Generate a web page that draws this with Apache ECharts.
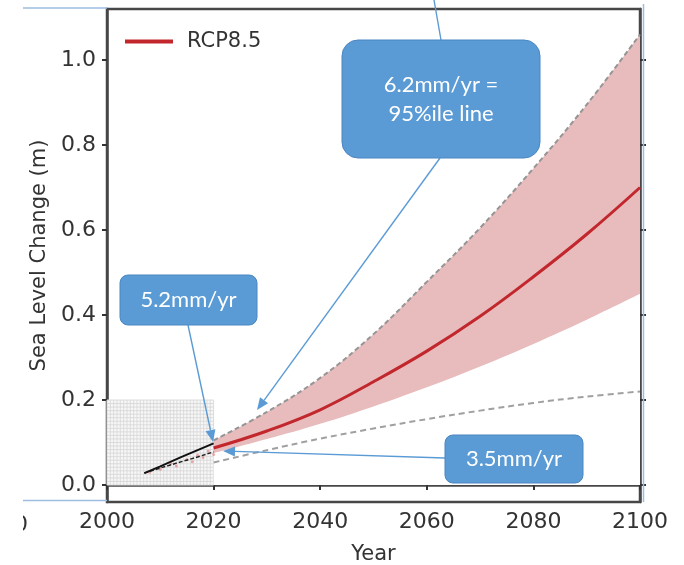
<!DOCTYPE html>
<html>
<head>
<meta charset="utf-8">
<script src="https://cdn.jsdelivr.net/npm/echarts@6/dist/echarts.min.js"></script>
<style>html,body{margin:0;padding:0;background:#fff;}#c{width:684px;height:565px;}</style>
</head>
<body>
<div id="c"></div>
<script>
// ---- data ----
var projYears = [2020, 2030, 2040, 2050, 2060, 2070, 2080, 2090, 2100];
var rcpMedian = [0.087, 0.127, 0.177, 0.243, 0.315, 0.397, 0.49, 0.59, 0.70];
var rcpUpper  = [0.105, 0.172, 0.252, 0.355, 0.478, 0.605, 0.745, 0.895, 1.06];
var rcpLower  = [0.075, 0.108, 0.144, 0.185, 0.23, 0.279, 0.332, 0.389, 0.45];
var lowLine   = [0.053, 0.082, 0.109, 0.133, 0.155, 0.175, 0.193, 0.208, 0.22];
var histYears = [2007, 2010, 2014, 2017, 2020];
var histObs   = [0.028, 0.044, 0.066, 0.082, 0.098];
var histTrend = [0.028, 0.040, 0.055, 0.066, 0.078];
var histDots  = [[2008,0.03],[2010,0.037],[2012,0.05],[2013,0.045],[2015,0.06],[2016,0.055],[2017,0.07],[2018,0.065],[2019,0.08],[2020,0.072]];
var gridBox   = [[2000, 0, 2020, 0.2]];
var yTicks    = [0.0, 0.2, 0.4, 0.6, 0.8, 1.0];
var xTickStep = 20;

function pairs(xs, ys) { return xs.map(function (x, i) { return [x, ys[i]]; }); }

var BLUE = '#5b9bd5';
function arrow(x1, y1, x2, y2) {
  var dx = x2 - x1, dy = y2 - y1, L = Math.sqrt(dx*dx + dy*dy);
  var ux = dx / L, uy = dy / L, len = 12, hw = 5;
  var bx = x2 - ux*len, by = y2 - uy*len;
  return [
    { type: 'line', shape: { x1: x1, y1: y1, x2: bx, y2: by }, style: { stroke: BLUE, lineWidth: 1.4 }, z: 100 },
    { type: 'polygon', shape: { points: [[x2, y2], [bx - uy*hw, by + ux*hw], [bx + uy*hw, by - ux*hw]] }, style: { fill: BLUE }, z: 100 }
  ];
}
function box(x, y, w, h, r, text) {
  return [
    { type: 'rect', shape: { x: x, y: y, width: w, height: h, r: r }, style: { fill: BLUE, stroke: '#4a86c0', lineWidth: 1 }, z: 101 },
    { type: 'text', x: x + w/2, y: y + h/2, style: { text: text, fill: '#fff', font: '22px Lato', align: 'center', verticalAlign: 'middle', lineHeight: 29 }, z: 102 }
  ];
}

var chart = echarts.init(document.getElementById('c'));
var font = 'DejaVu Sans';
var axisLineStyle = { color: '#474747', width: 2.5 };
var tickStyle = { color: '#333', width: 2 };

var graphics = [].concat(
  [
    { type: 'text', x: 14, y: 525, style: { text: '0', fill: '#333', font: '22px DejaVu Sans', verticalAlign: 'middle' }, z: 90 },
    { type: 'rect', shape: { x: 0, y: 0, width: 23, height: 565 }, style: { fill: '#fff' }, z: 91 },
    { type: 'line', shape: { x1: 23, y1: 8, x2: 107, y2: 8 }, style: { stroke: '#9dbde0', lineWidth: 1.5 }, z: 92 },
    { type: 'line', shape: { x1: 23, y1: 500.5, x2: 107, y2: 500.5 }, style: { stroke: '#9dbde0', lineWidth: 1.5 }, z: 92 },
    { type: 'line', shape: { x1: 643.5, y1: 4, x2: 643.5, y2: 502 }, style: { stroke: '#9dbde0', lineWidth: 1.5 }, z: 92 },
    { type: 'line', shape: { x1: 434, y1: 0, x2: 441, y2: 40 }, style: { stroke: BLUE, lineWidth: 1.4 }, z: 100 }
  ],
  arrow(440, 158, 257, 410),
  arrow(188, 325, 213, 442),
  arrow(445, 458, 223, 451),
  box(342, 40, 198, 118, 16, '6.2mm/yr =\n95%ile line'),
  box(120, 275, 137, 50, 8, '5.2mm/yr'),
  box(445, 435, 138, 48, 8, '3.5mm/yr')
);

chart.setOption({
  animation: false,
  backgroundColor: '#fff',
  textStyle: { fontFamily: font },
  grid: { left: 107, right: 44, top: 9, bottom: 63, show: true, borderColor: '#474747', borderWidth: 2.5, outerBoundsMode: 'none' },
  legend: {
    left: 120, top: 26, data: [{ name: 'RCP8.5', icon: 'rect' }],
    itemWidth: 48, itemHeight: 4, itemGap: 10,
    textStyle: { fontFamily: font, fontSize: 21, color: '#333', padding: [0, 0, 0, 9] }
  },
  xAxis: {
    type: 'value', min: 2000, max: 2100, interval: xTickStep,
    name: 'Year', nameLocation: 'middle', nameGap: 42,
    nameTextStyle: { fontFamily: font, fontSize: 21, color: '#333' },
    axisLine: { show: true, lineStyle: axisLineStyle },
    axisTick: { show: true, length: 5, lineStyle: tickStyle },
    axisLabel: { fontFamily: font, fontSize: 22, color: '#333', margin: 9, formatter: function (v) { return String(v); } },
    splitLine: { show: false }
  },
  yAxis: [{
    type: 'value', min: -0.04, max: 1.12,
    name: 'Sea Level Change (m)', nameLocation: 'middle', nameGap: 57,
    nameTextStyle: { fontFamily: font, fontSize: 21, color: '#333' },
    axisLine: { show: true, lineStyle: axisLineStyle },
    axisTick: { show: true, length: 5, lineStyle: tickStyle, customValues: yTicks },
    axisLabel: { fontFamily: font, fontSize: 22, color: '#333', margin: 11, customValues: yTicks, formatter: function (v) { return v.toFixed(1); } },
    splitLine: { show: false }
  }, {
    type: 'value', min: -0.04, max: 1.12, position: 'right',
    axisLine: { show: true, lineStyle: axisLineStyle },
    axisTick: { show: true, length: 6, lineStyle: tickStyle, customValues: yTicks },
    axisLabel: { show: false },
    splitLine: { show: false }
  }],
  series: [
    {
      type: 'custom', name: 'gridbox', silent: true, z: 1,
      data: gridBox,
      renderItem: function (params, api) {
        var p0 = api.coord([api.value(0), api.value(1)]);
        var p1 = api.coord([api.value(2), api.value(3)]);
        var x0 = Math.min(p0[0], p1[0]), x1 = Math.max(p0[0], p1[0]);
        var y0 = Math.min(p0[1], p1[1]), y1 = Math.max(p0[1], p1[1]);
        var kids = [{ type: 'rect', shape: { x: x0, y: y0, width: x1 - x0, height: y1 - y0 }, style: { fill: '#f7f7f7', stroke: '#dcdcdc', lineWidth: 1 } }];
        var nx = 32, ny = 24, i;
        for (i = 1; i < nx; i++) {
          var x = x0 + (x1 - x0) * i / nx;
          kids.push({ type: 'line', shape: { x1: x, y1: y0, x2: x, y2: y1 }, style: { stroke: '#d6d6d6', lineWidth: 0.8 } });
        }
        for (i = 1; i < ny; i++) {
          var y = y0 + (y1 - y0) * i / ny;
          kids.push({ type: 'line', shape: { x1: x0, y1: y, x2: x1, y2: y }, style: { stroke: '#d6d6d6', lineWidth: 0.8 } });
        }
        return { type: 'group', children: kids };
      }
    },
    {
      type: 'line', name: 'upper', data: pairs(projYears, rcpUpper),
      smooth: 0.4, symbol: 'none', lineStyle: { opacity: 0 },
      areaStyle: { color: '#e8bcbc', opacity: 1, origin: 0 }, z: 2, silent: true
    },
    {
      type: 'line', name: 'lowerBand', data: pairs(projYears, rcpLower),
      smooth: 0.4, symbol: 'none', lineStyle: { opacity: 0 },
      areaStyle: { color: '#ffffff', opacity: 1, origin: 0 }, z: 2, silent: true
    },
    {
      type: 'line', name: 'upperLine', data: pairs(projYears, rcpUpper),
      smooth: 0.4, symbol: 'none', lineStyle: { color: '#959595', width: 2, type: [5, 3] }, z: 3
    },
    {
      type: 'line', name: 'low', data: pairs(projYears, lowLine),
      smooth: 0.4, symbol: 'none', lineStyle: { color: '#a0a0a0', width: 2, type: [6, 4] }, z: 3
    },
    {
      type: 'line', name: 'RCP8.5', data: pairs(projYears, rcpMedian),
      smooth: 0.4, symbol: 'none', color: '#c1272d', lineStyle: { color: '#c1272d', width: 3 }, z: 4
    },
    {
      type: 'scatter', name: 'histDots', data: histDots, symbolSize: 3,
      itemStyle: { color: 'rgba(220,90,90,0.6)' }, z: 5
    },
    {
      type: 'line', name: 'histTrend', data: pairs(histYears, histTrend),
      symbol: 'none', lineStyle: { color: '#222', width: 1.5, type: [4, 2] }, z: 6
    },
    {
      type: 'line', name: 'histObs', data: pairs(histYears, histObs),
      symbol: 'none', lineStyle: { color: '#111', width: 2 }, z: 6
    }
  ],
  graphic: graphics
});
</script>
</body>
</html>
